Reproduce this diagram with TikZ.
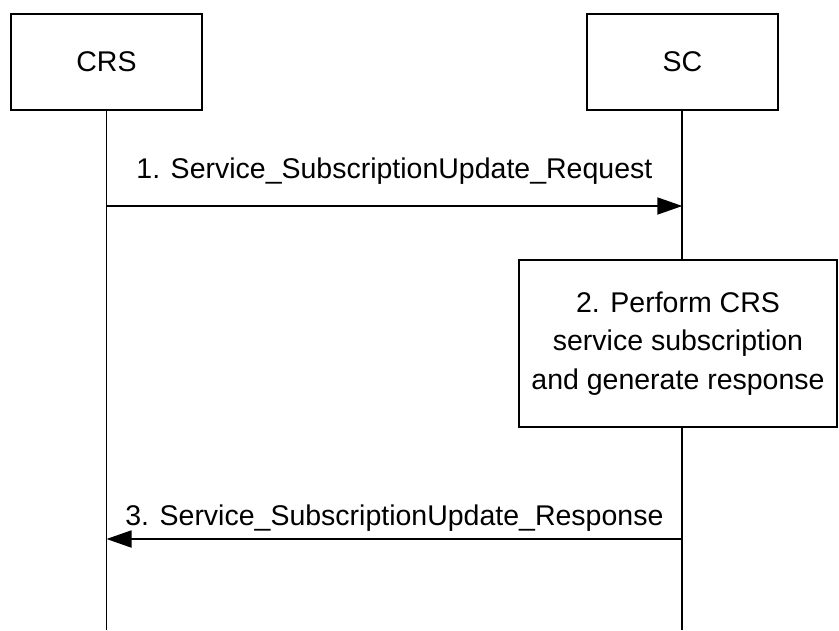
\documentclass[tikz,border=0pt]{standalone}
\usepackage{fontspec}
\setmainfont{Liberation Sans}
\usetikzlibrary{arrows.meta,positioning}

\begin{document}
\begin{tikzpicture}[
    x=1pt,y=-1pt,
    actor/.style={rectangle,draw,line width=1.8pt,minimum width=191pt,minimum height=96pt,inner sep=0pt,font=\fontsize{28.5}{38.5}\selectfont},
    procbox/.style={rectangle,draw,fill=white,line width=1.8pt,minimum width=318pt,minimum height=167pt,align=center,inner sep=0pt,font=\fontsize{28.5}{38.5}\selectfont},
    lifeline/.style={line width=1.8pt},
    msg/.style={-{Triangle[length=25pt,width=17pt]},line width=1.8pt},
    msg label/.style={font=\fontsize{28.5}{34}\selectfont,inner sep=0pt,anchor=base}
]
\useasboundingbox (0,0) rectangle (839,630);

% Entities
\node[actor] (crs) at (106.5,62) {CRS};
\node[actor,right=383pt of crs] (sc) {SC};

% Step 2 on SC
\node[procbox] (perform) at (678,343.5) {2. Perform CRS\\service subscription\\and generate response};

% Lifeline ends and message points
\coordinate (crsbottom) at (crs.south |- 0,630);
\coordinate (scbottom) at (sc.south |- 0,630);
\coordinate (reqfrom) at (crs.south |- 0,206);
\coordinate (reqto) at (sc.south |- 0,206);
\coordinate (rspfrom) at (sc.south |- 0,539);
\coordinate (rspto) at (crs.south |- 0,539);

% Lifelines
\draw[lifeline] (crs.south) -- (crsbottom);
\draw[lifeline] (sc.south) -- (sc.south |- perform.north);
\draw[lifeline] (sc.south |- perform.south) -- (scbottom);

% Messages
\draw[msg] (reqfrom) -- node[msg label,yshift=28pt] {1. Service\_SubscriptionUpdate\_Request} (reqto);
\draw[msg] (rspfrom) -- node[msg label,yshift=14pt] {3. Service\_SubscriptionUpdate\_Response} (rspto);

\end{tikzpicture}
\end{document}
